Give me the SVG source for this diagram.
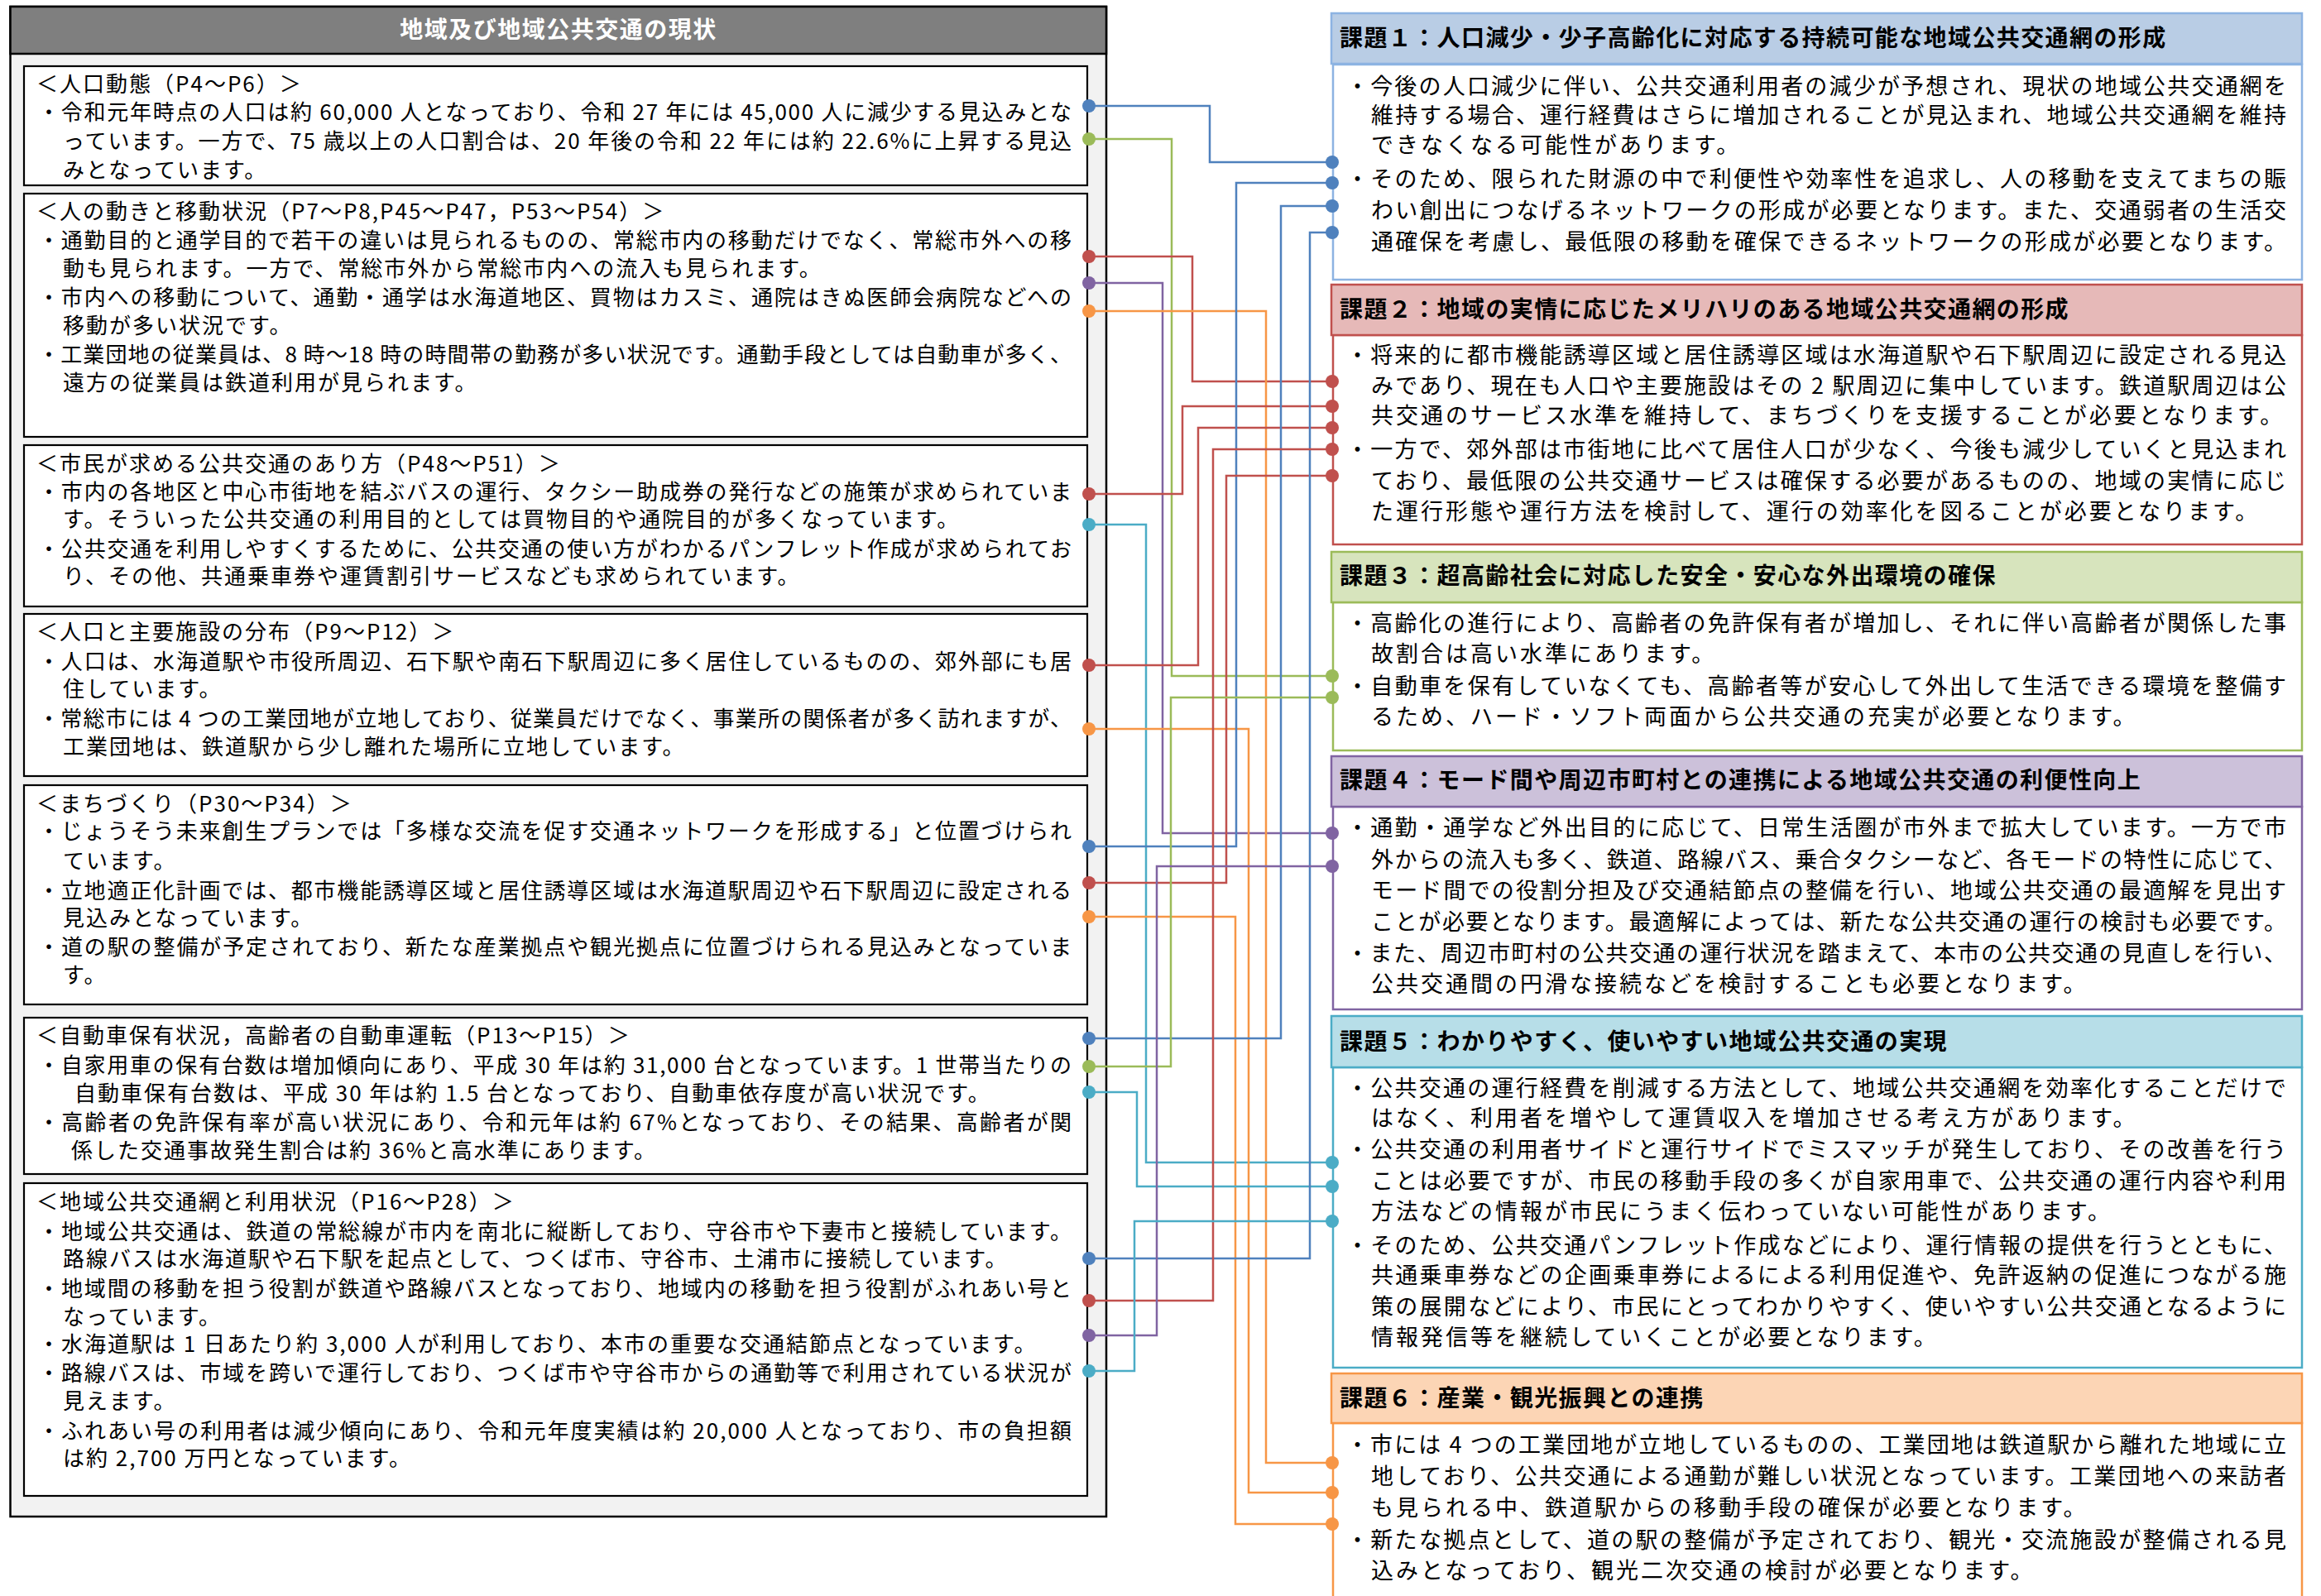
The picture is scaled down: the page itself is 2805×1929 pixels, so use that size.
<svg xmlns="http://www.w3.org/2000/svg" width="2805" height="1929" viewBox="0 0 2805 1929">
<style>
text { font-family: "Noto Sans CJK JP", "Noto Sans", sans-serif; fill: #000; }
.lt { font-size: 26px; letter-spacing: 2px; }
.rt { font-size: 27px; letter-spacing: 3px; }
.hd { font-size: 28px; font-weight: bold; letter-spacing: 1.4px; }
.ph { font-size: 28px; font-weight: bold; fill: #fff; letter-spacing: 1.5px; }
.lbox { fill: #fff; stroke: #000; stroke-width: 2.2; }
.con { fill: none; stroke-width: 2.5; }
.blue { stroke: #4f81bd; } .green { stroke: #9bbb59; } .red { stroke: #c0504d; }
.purple { stroke: #8064a2; } .cyan { stroke: #4bacc6; } .orange { stroke: #f79646; }
.dblue { fill: #4f81bd; } .dgreen { fill: #9bbb59; } .dred { fill: #c0504d; }
.dpurple { fill: #8064a2; } .dcyan { fill: #4bacc6; } .dorange { fill: #f79646; }
.body { fill: #fff; stroke-width: 2.5; }
.head { stroke-width: 2.5; }
</style>
<rect width="2805" height="1929" fill="#fff"/>

<g id="status-panel">
<rect x="12.5" y="8" width="1324.5" height="1825" fill="#f2f2f2" stroke="#000" stroke-width="2.5"/>
<rect x="12.5" y="8" width="1324.5" height="57" fill="#7f7f7f" stroke="#000" stroke-width="2.5"/>
<text class="ph" x="675" y="46" text-anchor="middle">地域及び地域公共交通の現状</text>
</g>

<g id="box-population">
<rect class="lbox" x="29" y="80" width="1285" height="144"/>
<text class="lt" x="44" y="111">＜人口動態（P4～P6）＞</text>
<text class="lt" x="46" y="145" textLength="1251">・令和元年時点の人口は約 60,000 人となっており、令和 27 年には 45,000 人に減少する見込みとな</text>
<text class="lt" x="76" y="180" textLength="1221">っています。一方で、75 歳以上の人口割合は、20 年後の令和 22 年には約 22.6%に上昇する見込</text>
<text class="lt" x="76" y="215">みとなっています。</text>
</g>

<g id="box-movement">
<rect class="lbox" x="29" y="234" width="1285" height="294"/>
<text class="lt" x="44" y="265">＜人の動きと移動状況（P7～P8,P45～P47，P53～P54）＞</text>
<text class="lt" x="46" y="300" textLength="1251">・通勤目的と通学目的で若干の違いは見られるものの、常総市内の移動だけでなく、常総市外への移</text>
<text class="lt" x="76" y="334">動も見られます。一方で、常総市外から常総市内への流入も見られます。</text>
<text class="lt" x="46" y="369" textLength="1251">・市内への移動について、通勤・通学は水海道地区、買物はカスミ、通院はきぬ医師会病院などへの</text>
<text class="lt" x="76" y="403">移動が多い状況です。</text>
<text class="lt" x="46" y="438" textLength="1251">・工業団地の従業員は、8 時～18 時の時間帯の勤務が多い状況です。通勤手段としては自動車が多く、</text>
<text class="lt" x="76" y="472">遠方の従業員は鉄道利用が見られます。</text>
</g>

<g id="box-citizen-needs">
<rect class="lbox" x="29" y="538" width="1285" height="195"/>
<text class="lt" x="44" y="570">＜市民が求める公共交通のあり方（P48～P51）＞</text>
<text class="lt" x="46" y="604" textLength="1251">・市内の各地区と中心市街地を結ぶバスの運行、タクシー助成券の発行などの施策が求められていま</text>
<text class="lt" x="76" y="637">す。そういった公共交通の利用目的としては買物目的や通院目的が多くなっています。</text>
<text class="lt" x="46" y="673" textLength="1251">・公共交通を利用しやすくするために、公共交通の使い方がわかるパンフレット作成が求められてお</text>
<text class="lt" x="76" y="706">り、その他、共通乗車券や運賃割引サービスなども求められています。</text>
</g>

<g id="box-distribution">
<rect class="lbox" x="29" y="742" width="1285" height="196"/>
<text class="lt" x="44" y="773">＜人口と主要施設の分布（P9～P12）＞</text>
<text class="lt" x="46" y="809" textLength="1251">・人口は、水海道駅や市役所周辺、石下駅や南石下駅周辺に多く居住しているものの、郊外部にも居</text>
<text class="lt" x="76" y="842">住しています。</text>
<text class="lt" x="46" y="878" textLength="1251">・常総市には 4 つの工業団地が立地しており、従業員だけでなく、事業所の関係者が多く訪れますが、</text>
<text class="lt" x="76" y="912">工業団地は、鉄道駅から少し離れた場所に立地しています。</text>
</g>

<g id="box-town-planning">
<rect class="lbox" x="29" y="949" width="1285" height="265"/>
<text class="lt" x="44" y="981">＜まちづくり（P30～P34）＞</text>
<text class="lt" x="46" y="1014" textLength="1251">・じょうそう未来創生プランでは「多様な交流を促す交通ネットワークを形成する」と位置づけられ</text>
<text class="lt" x="76" y="1050">ています。</text>
<text class="lt" x="46" y="1086" textLength="1251">・立地適正化計画では、都市機能誘導区域と居住誘導区域は水海道駅周辺や石下駅周辺に設定される</text>
<text class="lt" x="76" y="1119">見込みとなっています。</text>
<text class="lt" x="46" y="1154" textLength="1251">・道の駅の整備が予定されており、新たな産業拠点や観光拠点に位置づけられる見込みとなっていま</text>
<text class="lt" x="76" y="1188">す。</text>
</g>

<g id="box-car-ownership">
<rect class="lbox" x="29" y="1230" width="1285" height="189"/>
<text class="lt" x="44" y="1261">＜自動車保有状況，高齢者の自動車運転（P13～P15）＞</text>
<text class="lt" x="46" y="1297" textLength="1251">・自家用車の保有台数は増加傾向にあり、平成 30 年は約 31,000 台となっています。1 世帯当たりの</text>
<text class="lt" x="90" y="1331">自動車保有台数は、平成 30 年は約 1.5 台となっており、自動車依存度が高い状況です。</text>
<text class="lt" x="46" y="1366" textLength="1251">・高齢者の免許保有率が高い状況にあり、令和元年は約 67%となっており、その結果、高齢者が関</text>
<text class="lt" x="86" y="1400">係した交通事故発生割合は約 36%と高水準にあります。</text>
</g>

<g id="box-public-transport">
<rect class="lbox" x="29" y="1430" width="1285" height="378"/>
<text class="lt" x="44" y="1462">＜地域公共交通網と利用状況（P16～P28）＞</text>
<text class="lt" x="46" y="1498" textLength="1251">・地域公共交通は、鉄道の常総線が市内を南北に縦断しており、守谷市や下妻市と接続しています。</text>
<text class="lt" x="76" y="1531">路線バスは水海道駅や石下駅を起点として、つくば市、守谷市、土浦市に接続しています。</text>
<text class="lt" x="46" y="1567" textLength="1251">・地域間の移動を担う役割が鉄道や路線バスとなっており、地域内の移動を担う役割がふれあい号と</text>
<text class="lt" x="76" y="1601">なっています。</text>
<text class="lt" x="46" y="1634">・水海道駅は 1 日あたり約 3,000 人が利用しており、本市の重要な交通結節点となっています。</text>
<text class="lt" x="46" y="1669" textLength="1251">・路線バスは、市域を跨いで運行しており、つくば市や守谷市からの通勤等で利用されている状況が</text>
<text class="lt" x="76" y="1703">見えます。</text>
<text class="lt" x="46" y="1739" textLength="1251">・ふれあい号の利用者は減少傾向にあり、令和元年度実績は約 20,000 人となっており、市の負担額</text>
<text class="lt" x="76" y="1772">は約 2,700 万円となっています。</text>
</g>

<g id="issue-1">
<rect class="body" x="1611" y="78" width="1171" height="260" stroke="#8db3e2"/>
<rect class="head" x="1609" y="16" width="1173" height="61" fill="#b9cde5" stroke="#8db3e2"/>
<text class="hd" x="1619" y="56">課題１：人口減少・少子高齢化に対応する持続可能な地域公共交通網の形成</text>
<text class="rt" x="1627" y="114" textLength="1139">・今後の人口減少に伴い、公共交通利用者の減少が予想され、現状の地域公共交通網を</text>
<text class="rt" x="1657" y="149" textLength="1109">維持する場合、運行経費はさらに増加されることが見込まれ、地域公共交通網を維持</text>
<text class="rt" x="1657" y="185">できなくなる可能性があります。</text>
<text class="rt" x="1627" y="226" textLength="1139">・そのため、限られた財源の中で利便性や効率性を追求し、人の移動を支えてまちの賑</text>
<text class="rt" x="1657" y="264" textLength="1109">わい創出につなげるネットワークの形成が必要となります。また、交通弱者の生活交</text>
<text class="rt" x="1657" y="302" textLength="1109">通確保を考慮し、最低限の移動を確保できるネットワークの形成が必要となります。</text>
</g>

<g id="issue-2">
<rect class="body" x="1611" y="405" width="1171" height="253" stroke="#c0504d"/>
<rect class="head" x="1609" y="344" width="1173" height="61" fill="#e6b9b8" stroke="#c0504d"/>
<text class="hd" x="1619" y="384">課題２：地域の実情に応じたメリハリのある地域公共交通網の形成</text>
<text class="rt" x="1627" y="439" textLength="1139">・将来的に都市機能誘導区域と居住誘導区域は水海道駅や石下駅周辺に設定される見込</text>
<text class="rt" x="1657" y="476" textLength="1109">みであり、現在も人口や主要施設はその 2 駅周辺に集中しています。鉄道駅周辺は公</text>
<text class="rt" x="1657" y="512">共交通のサービス水準を維持して、まちづくりを支援することが必要となります。</text>
<text class="rt" x="1627" y="553" textLength="1139">・一方で、郊外部は市街地に比べて居住人口が少なく、今後も減少していくと見込まれ</text>
<text class="rt" x="1657" y="591" textLength="1109">ており、最低限の公共交通サービスは確保する必要があるものの、地域の実情に応じ</text>
<text class="rt" x="1657" y="628">た運行形態や運行方法を検討して、運行の効率化を図ることが必要となります。</text>
</g>

<g id="issue-3">
<rect class="body" x="1611" y="728" width="1171" height="179" stroke="#9bbb59"/>
<rect class="head" x="1609" y="667" width="1173" height="61" fill="#d7e4bd" stroke="#9bbb59"/>
<text class="hd" x="1619" y="706">課題３：超高齢社会に対応した安全・安心な外出環境の確保</text>
<text class="rt" x="1627" y="763" textLength="1139">・高齢化の進行により、高齢者の免許保有者が増加し、それに伴い高齢者が関係した事</text>
<text class="rt" x="1657" y="800">故割合は高い水準にあります。</text>
<text class="rt" x="1627" y="839" textLength="1139">・自動車を保有していなくても、高齢者等が安心して外出して生活できる環境を整備す</text>
<text class="rt" x="1657" y="876">るため、ハード・ソフト両面から公共交通の充実が必要となります。</text>
</g>

<g id="issue-4">
<rect class="body" x="1611" y="975" width="1171" height="245" stroke="#8064a2"/>
<rect class="head" x="1609" y="914" width="1173" height="61" fill="#ccc1da" stroke="#8064a2"/>
<text class="hd" x="1619" y="953">課題４：モード間や周辺市町村との連携による地域公共交通の利便性向上</text>
<text class="rt" x="1627" y="1010" textLength="1139">・通勤・通学など外出目的に応じて、日常生活圏が市外まで拡大しています。一方で市</text>
<text class="rt" x="1657" y="1049" textLength="1109">外からの流入も多く、鉄道、路線バス、乗合タクシーなど、各モードの特性に応じて、</text>
<text class="rt" x="1657" y="1086" textLength="1109">モード間での役割分担及び交通結節点の整備を行い、地域公共交通の最適解を見出す</text>
<text class="rt" x="1657" y="1124" textLength="1109">ことが必要となります。最適解によっては、新たな公共交通の運行の検討も必要です。</text>
<text class="rt" x="1627" y="1162" textLength="1139">・また、周辺市町村の公共交通の運行状況を踏まえて、本市の公共交通の見直しを行い、</text>
<text class="rt" x="1657" y="1199">公共交通間の円滑な接続などを検討することも必要となります。</text>
</g>

<g id="issue-5">
<rect class="body" x="1611" y="1290" width="1171" height="363" stroke="#4bacc6"/>
<rect class="head" x="1609" y="1228" width="1173" height="62" fill="#b7dee8" stroke="#4bacc6"/>
<text class="hd" x="1619" y="1269">課題５：わかりやすく、使いやすい地域公共交通の実現</text>
<text class="rt" x="1627" y="1325" textLength="1139">・公共交通の運行経費を削減する方法として、地域公共交通網を効率化することだけで</text>
<text class="rt" x="1657" y="1361">はなく、利用者を増やして運賃収入を増加させる考え方があります。</text>
<text class="rt" x="1627" y="1399" textLength="1139">・公共交通の利用者サイドと運行サイドでミスマッチが発生しており、その改善を行う</text>
<text class="rt" x="1657" y="1437" textLength="1109">ことは必要ですが、市民の移動手段の多くが自家用車で、公共交通の運行内容や利用</text>
<text class="rt" x="1657" y="1474">方法などの情報が市民にうまく伝わっていない可能性があります。</text>
<text class="rt" x="1627" y="1515" textLength="1139">・そのため、公共交通パンフレット作成などにより、運行情報の提供を行うとともに、</text>
<text class="rt" x="1657" y="1551" textLength="1109">共通乗車券などの企画乗車券によるによる利用促進や、免許返納の促進につながる施</text>
<text class="rt" x="1657" y="1589" textLength="1109">策の展開などにより、市民にとってわかりやすく、使いやすい公共交通となるように</text>
<text class="rt" x="1657" y="1626">情報発信等を継続していくことが必要となります。</text>
</g>

<g id="issue-6">
<rect class="body" x="1611" y="1720" width="1171" height="230" stroke="#f79646"/>
<rect class="head" x="1609" y="1660" width="1173" height="60" fill="#fcd5b5" stroke="#f79646"/>
<text class="hd" x="1619" y="1700">課題６：産業・観光振興との連携</text>
<text class="rt" x="1627" y="1756" textLength="1139">・市には 4 つの工業団地が立地しているものの、工業団地は鉄道駅から離れた地域に立</text>
<text class="rt" x="1657" y="1794" textLength="1109">地しており、公共交通による通勤が難しい状況となっています。工業団地への来訪者</text>
<text class="rt" x="1657" y="1832">も見られる中、鉄道駅からの移動手段の確保が必要となります。</text>
<text class="rt" x="1627" y="1871" textLength="1139">・新たな拠点として、道の駅の整備が予定されており、観光・交流施設が整備される見</text>
<text class="rt" x="1657" y="1908">込みとなっており、観光二次交通の検討が必要となります。</text>
</g>

<g id="connectors">
<polyline class="con blue" points="1316,128 1462,128 1462,196 1610,196"/>
<polyline class="con green" points="1316,168 1416,168 1416,817 1610,817"/>
<polyline class="con red" points="1316,310 1441,310 1441,461 1610,461"/>
<polyline class="con purple" points="1316,342 1405,342 1405,1007 1610,1007"/>
<polyline class="con orange" points="1316,376 1530,376 1530,1768 1610,1768"/>
<polyline class="con red" points="1316,597 1429,597 1429,491 1610,491"/>
<polyline class="con cyan" points="1316,634 1385,634 1385,1405 1610,1405"/>
<polyline class="con red" points="1316,804 1448,804 1448,517 1610,517"/>
<polyline class="con orange" points="1316,881 1509,881 1509,1804 1610,1804"/>
<polyline class="con blue" points="1316,1023 1494,1023 1494,221 1610,221"/>
<polyline class="con red" points="1316,1067 1482,1067 1482,575 1610,575"/>
<polyline class="con orange" points="1316,1108 1493,1108 1493,1842 1610,1842"/>
<polyline class="con blue" points="1316,1255 1548,1255 1548,249 1610,249"/>
<polyline class="con green" points="1316,1289 1415,1289 1415,843 1610,843"/>
<polyline class="con cyan" points="1316,1320 1374,1320 1374,1434 1610,1434"/>
<polyline class="con blue" points="1316,1521 1583,1521 1583,281 1610,281"/>
<polyline class="con red" points="1316,1572 1466,1572 1466,543 1610,543"/>
<polyline class="con purple" points="1316,1614 1398,1614 1398,1047 1610,1047"/>
<polyline class="con cyan" points="1316,1657 1371,1657 1371,1476 1610,1476"/>
<g id="connector-dots">
<circle class="dblue" cx="1316" cy="128" r="8"/><circle class="dblue" cx="1610" cy="196" r="8"/>
<circle class="dgreen" cx="1316" cy="168" r="8"/><circle class="dgreen" cx="1610" cy="817" r="8"/>
<circle class="dred" cx="1316" cy="310" r="8"/><circle class="dred" cx="1610" cy="461" r="8"/>
<circle class="dpurple" cx="1316" cy="342" r="8"/><circle class="dpurple" cx="1610" cy="1007" r="8"/>
<circle class="dorange" cx="1316" cy="376" r="8"/><circle class="dorange" cx="1610" cy="1768" r="8"/>
<circle class="dred" cx="1316" cy="597" r="8"/><circle class="dred" cx="1610" cy="491" r="8"/>
<circle class="dcyan" cx="1316" cy="634" r="8"/><circle class="dcyan" cx="1610" cy="1405" r="8"/>
<circle class="dred" cx="1316" cy="804" r="8"/><circle class="dred" cx="1610" cy="517" r="8"/>
<circle class="dorange" cx="1316" cy="881" r="8"/><circle class="dorange" cx="1610" cy="1804" r="8"/>
<circle class="dblue" cx="1316" cy="1023" r="8"/><circle class="dblue" cx="1610" cy="221" r="8"/>
<circle class="dred" cx="1316" cy="1067" r="8"/><circle class="dred" cx="1610" cy="575" r="8"/>
<circle class="dorange" cx="1316" cy="1108" r="8"/><circle class="dorange" cx="1610" cy="1842" r="8"/>
<circle class="dblue" cx="1316" cy="1255" r="8"/><circle class="dblue" cx="1610" cy="249" r="8"/>
<circle class="dgreen" cx="1316" cy="1289" r="8"/><circle class="dgreen" cx="1610" cy="843" r="8"/>
<circle class="dcyan" cx="1316" cy="1320" r="8"/><circle class="dcyan" cx="1610" cy="1434" r="8"/>
<circle class="dblue" cx="1316" cy="1521" r="8"/><circle class="dblue" cx="1610" cy="281" r="8"/>
<circle class="dred" cx="1316" cy="1572" r="8"/><circle class="dred" cx="1610" cy="543" r="8"/>
<circle class="dpurple" cx="1316" cy="1614" r="8"/><circle class="dpurple" cx="1610" cy="1047" r="8"/>
<circle class="dcyan" cx="1316" cy="1657" r="8"/><circle class="dcyan" cx="1610" cy="1476" r="8"/>
</g>
</g>
</svg>
